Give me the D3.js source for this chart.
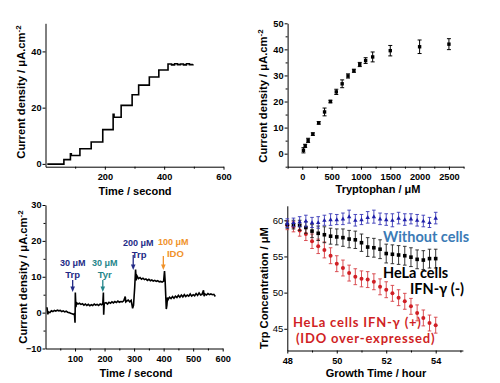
<!DOCTYPE html>
<html><head><meta charset="utf-8">
<script src="https://cdn.jsdelivr.net/npm/d3@7"></script>
<style>body{margin:0;background:#fff}svg{display:block}</style>
</head><body><script>
// ---------- Panel 1 (top-left): step calibration trace ----------
const p1Time = [6, 62, 84, 87, 116, 154, 193, 228, 231, 255, 292, 314, 350, 382, 413, 425, 435, 445, 455, 465, 475, 485, 497];
const p1Value = [-0.1, 1.5, 3.6, 3.0, 5.4, 7.8, 12.2, 17.6, 16.6, 20.8, 24.6, 28.0, 30.9, 33.4, 35.5, 35.2, 35.6, 35.3, 35.5, 35.2, 35.6, 35.3, 35.4];
const p1XTicks = [200, 400, 600], p1XMinor = [100, 300, 500];
const p1YTicks = [0, 20, 40];

// ---------- Panel 2 (top-right): calibration curve ----------
const p2Trp = [20, 50, 100, 180, 280, 380, 480, 580, 680, 780, 880, 980, 1080, 1200, 1500, 2000, 2500];
const p2Current = [1.3, 3.0, 5.1, 7.5, 11.8, 16.0, 20.0, 23.7, 26.8, 29.8, 31.8, 34.2, 35.7, 37.1, 39.5, 41.0, 42.0];
const p2Err = [1.0, 0.6, 0.8, 0.5, 0.5, 1.5, 0.5, 1.0, 1.5, 0.8, 0.6, 0.8, 1.1, 1.9, 2.0, 2.6, 2.1];
const p2XTicks = [0, 500, 1000, 1500, 2000, 2500], p2XMinor = [-250, 250, 750, 1250, 1750, 2250, 2750];
const p2YTicks = [0, 10, 20, 30, 40, 50], p2YMinor = [-5, 5, 15, 25, 35, 45];

// ---------- Panel 3 (bottom-left): selectivity trace ----------
const p3Time = [5, 8, 10, 15, 20, 25, 30, 35, 40, 45, 50, 55, 60, 65, 70, 75, 80, 85, 90, 95, 98, 100, 101, 103, 105, 110, 115, 120, 125, 130, 135, 140, 145, 150, 155, 160, 165, 170, 175, 180, 185, 190, 194, 196, 197, 199, 205, 210, 215, 220, 225, 230, 235, 240, 245, 250, 255, 260, 265, 270, 272, 275, 280, 285, 290, 295, 298, 302, 305, 307, 310, 315, 320, 325, 330, 335, 340, 345, 350, 355, 360, 365, 370, 375, 380, 385, 390, 395, 400, 403, 405, 407, 409, 411, 413, 415, 420, 425, 430, 435, 440, 445, 450, 455, 460, 465, 470, 475, 480, 485, 490, 495, 500, 505, 510, 515, 520, 525, 530, 535, 537, 540, 545, 550, 555, 560, 565, 570, 575];
const p3Value = [1.5, -0.5, 0.2, 0.0, 0.5, 0.3, 0.6, 0.4, 0.7, 0.5, 0.6, 0.3, 0.5, 0.2, 0.4, 0.1, 0.0, -0.2, -0.3, -0.5, -0.3, -2.8, 5.6, 1.5, 2.8, 2.4, 2.6, 2.3, 2.5, 2.1, 2.4, 2.0, 2.3, 1.9, 2.2, 2.0, 2.4, 2.1, 2.3, 2.0, 2.4, 2.2, 2.5, 5.6, -0.6, 2.6, 2.8, 2.4, 2.9, 2.6, 3.0, 2.7, 3.1, 2.8, 3.2, 2.9, 3.1, 3.0, 3.3, 4.5, 3.0, 3.2, 3.5, 3.0, 3.4, 1.2, 2.0, 7.0, 12.0, 9.0, 10.2, 9.5, 9.8, 9.3, 9.6, 9.2, 9.4, 9.0, 9.3, 8.9, 9.1, 8.8, 9.0, 8.7, 8.9, 8.6, 8.7, 8.5, 8.8, 11.6, 9.0, 5.0, 1.0, 2.0, 4.2, 3.6, 4.3, 3.9, 4.5, 4.0, 4.6, 4.2, 4.8, 4.3, 4.9, 4.4, 5.0, 4.5, 4.9, 4.6, 5.2, 4.6, 5.0, 4.7, 5.3, 4.8, 5.5, 4.9, 5.1, 6.2, 4.6, 5.2, 4.9, 5.3, 5.0, 5.2, 5.0, 5.1, 4.5];
const p3XTicks = [100, 200, 300, 400, 500, 600], p3XMinor = [50, 150, 250, 350, 450, 550];
const p3YTicks = [-10, 0, 10, 20, 30], p3YMinor = [-5, 5, 15, 25];
const p3AddTime = [92, 194, 297, 399];
const p3AddConc = ["30 μM", "30 μM", "200 μM", "100 μM"];
const p3AddName = ["Trp", "Tyr", "Trp", "IDO"];
const p3AddColor = ["#232a86", "#24858a", "#232a86", "#f0922a"];

// ---------- Panel 4 (bottom-right): cell culture ----------
const p4Hours = [48, 48.25, 48.5, 48.75, 49, 49.25, 49.5, 49.75, 50, 50.25, 50.5, 50.75, 51, 51.25, 51.5, 51.75, 52, 52.25, 52.5, 52.75, 53, 53.25, 53.5, 53.75, 54];
const p4NoCells = [59.6, 59.7, 59.8, 59.9, 59.7, 59.7, 60.0, 60.1, 60.1, 60.2, 60.5, 60.0, 60.1, 60.4, 60.5, 60.2, 60.1, 60.0, 60.3, 60.1, 60.2, 60.0, 59.9, 59.7, 60.3];
const p4NoCellsErr = [0.6, 0.6, 0.7, 0.8, 0.7, 0.8, 0.7, 0.8, 0.7, 0.8, 0.9, 0.8, 0.7, 0.8, 0.9, 0.8, 0.8, 0.9, 0.8, 0.8, 0.7, 0.8, 0.8, 0.7, 0.8];
const p4HeLa = [59.4, 59.4, 59.3, 59.0, 58.5, 58.2, 58.0, 57.8, 57.7, 57.6, 57.4, 57.3, 56.9, 56.3, 56.2, 56.0, 55.4, 55.3, 55.2, 55.1, 54.9, 54.6, 54.5, 54.7, 54.7];
const p4HeLaErr = [0.5, 0.6, 0.7, 0.8, 0.9, 1.0, 1.1, 1.1, 1.1, 1.2, 1.2, 1.2, 1.2, 1.3, 1.3, 1.3, 1.3, 1.3, 1.3, 1.3, 1.3, 1.3, 1.3, 1.3, 1.3];
const p4IFN = [59.3, 59.1, 58.6, 58.1, 57.1, 56.4, 55.9, 55.1, 54.0, 53.4, 52.7, 52.2, 51.9, 51.8, 51.5, 50.8, 50.4, 49.9, 49.3, 48.8, 48.1, 47.2, 46.5, 45.8, 45.5];
const p4IFNErr = [0.6, 0.7, 0.8, 0.9, 1.0, 1.0, 1.1, 1.1, 1.1, 1.1, 1.1, 1.1, 1.1, 1.1, 1.1, 1.1, 1.1, 1.1, 1.1, 1.1, 1.1, 1.1, 1.1, 1.1, 1.1];
const p4XTicks = [48, 50, 52, 54], p4XMinor = [49, 51, 53, 55];
const p4YTicks = [45, 50, 55, 60];

const FONT = '"Liberation Sans", Arial, sans-serif';
const svg = d3.select("body").append("svg").attr("width", 500).attr("height", 383);

function axes(x, y, xMaj, xMin, yMaj, yMin, yWeight) {
  const bottom = y.range()[0], left = x.range()[0];
  const gx = svg.append("g").attr("transform", `translate(0,${bottom})`)
    .call(d3.axisBottom(x).tickValues(xMaj).tickSize(3).tickSizeOuter(0).tickPadding(4).tickFormat(d3.format("d")));
  if (xMin) gx.append("g").call(d3.axisBottom(x).tickValues(xMin).tickSize(2).tickSizeOuter(0).tickFormat(""))
    .call(g => g.select(".domain").remove());
  const gy = svg.append("g").attr("transform", `translate(${left},0)`)
    .call(d3.axisLeft(y).tickValues(yMaj).tickSize(3).tickSizeOuter(0).tickPadding(1).tickFormat(d3.format("d")));
  if (yMin) gy.append("g").call(d3.axisLeft(y).tickValues(yMin).tickSize(2).tickSizeOuter(0).tickFormat(""))
    .call(g => g.select(".domain").remove());
  [gx, gy].forEach(g => {
    g.selectAll("path,line").attr("stroke", "#000").attr("stroke-width", 1);
    g.selectAll("text").attr("font-family", FONT).attr("font-size", 9.2).attr("font-weight", "bold").attr("fill", "#000");
  });
  if (yWeight) gy.selectAll("text").attr("font-weight", yWeight).attr("font-size", 9.5);
}
function xLabel(txt, cx, by) {
  svg.append("text").attr("x", cx).attr("y", by).attr("text-anchor", "middle")
    .attr("font-family", FONT).attr("font-size", 11).attr("font-weight", "bold").text(txt);
}
function yLabel(parts, bx, cy) {
  const t = svg.append("text").attr("transform", `translate(${bx},${cy}) rotate(-90)`).attr("text-anchor", "middle")
    .attr("font-family", FONT).attr("font-size", 11.2).attr("font-weight", "bold");
  parts.forEach(p => {
    const s = t.append("tspan").text(p.t);
    if (p.sup) s.attr("font-size", 8).attr("baseline-shift", "super");
  });
}

// ===== Panel 1 =====
{
  const x = d3.scaleLinear().domain([0, 600]).range([45.5, 223.5]);
  const y = d3.scaleLinear().domain([-1, 50]).range([166.7, 23.3]);
  axes(x, y, p1XTicks, p1XMinor, p1YTicks, null);
  const line = d3.line().x((d, i) => x(p1Time[i])).y(d => y(d)).curve(d3.curveStepAfter);
  svg.append("path").attr("d", line(p1Value)).attr("fill", "none").attr("stroke", "#000").attr("stroke-width", 1.6);
  xLabel("Time / second", 135, 195);
  yLabel([{t: "Current density / μA.cm"}, {t: "-2", sup: true}], 25, 92);
}

// ===== Panel 2 =====
{
  const x = d3.scaleLinear().domain([-250, 2750]).range([287.6, 463.6]);
  const y = d3.scaleLinear().domain([-5, 50]).range([166.7, 23.3]);
  axes(x, y, p2XTicks, p2XMinor, p2YTicks, p2YMinor);
  const g = svg.append("g");
  p2Trp.forEach((v, i) => {
    const cx = x(v), y0 = y(p2Current[i] - p2Err[i]), y1 = y(p2Current[i] + p2Err[i]);
    g.append("line").attr("x1", cx).attr("x2", cx).attr("y1", y0).attr("y2", y1).attr("stroke", "#000").attr("stroke-width", 1);
    g.append("line").attr("x1", cx - 2).attr("x2", cx + 2).attr("y1", y0).attr("y2", y0).attr("stroke", "#000");
    g.append("line").attr("x1", cx - 2).attr("x2", cx + 2).attr("y1", y1).attr("y2", y1).attr("stroke", "#000");
    g.append("rect").attr("x", cx - 1.7).attr("y", y(p2Current[i]) - 1.7).attr("width", 3.4).attr("height", 3.4).attr("fill", "#000");
  });
  xLabel("Tryptophan / μM", 378, 193);
  yLabel([{t: "Current density / μA.cm"}, {t: "-2", sup: true}], 266.5, 96);
}

// ===== Panel 3 =====
{
  const x = d3.scaleLinear().domain([0, 600]).range([45.5, 222.7]);
  const y = d3.scaleLinear().domain([-10, 30]).range([348.5, 205]);
  axes(x, y, p3XTicks, p3XMinor, p3YTicks, p3YMinor);
  const line = d3.line().x((d, i) => x(p3Time[i])).y(d => y(d));
  svg.append("path").attr("d", line(p3Value)).attr("fill", "none").attr("stroke", "#000").attr("stroke-width", 1.6);
  // annotation layout (pixels): arrow tail/tip y, text offsets
  const lay = [
    {tail: 280, tip: 292, dx1: 0, dx2: 0, b1: 265.5, b2: 278},
    {tail: 280, tip: 292, dx1: 2, dx2: 2, b1: 265.5, b2: 278},
    {tail: 255, tip: 270, dx1: 5, dx2: 6, b1: 245.5, b2: 257.5},
    {tail: 256, tip: 270, dx1: 10, dx2: 12, b1: 244.5, b2: 256.5}
  ];
  p3AddTime.forEach((t, i) => {
    const ax = x(t), L = lay[i], col = p3AddColor[i];
    svg.append("line").attr("x1", ax).attr("x2", ax).attr("y1", L.tail).attr("y2", L.tip - 3).attr("stroke", col).attr("stroke-width", 1.3);
    svg.append("path").attr("d", `M${ax - 2.3},${L.tip - 5.5}L${ax + 2.3},${L.tip - 5.5}L${ax},${L.tip}Z`).attr("fill", col);
    svg.append("text").attr("x", ax + L.dx1).attr("y", L.b1).attr("text-anchor", "middle")
      .attr("font-family", FONT).attr("font-size", 9).attr("font-weight", "bold").attr("fill", col).text(p3AddConc[i]);
    svg.append("text").attr("x", ax + L.dx2).attr("y", L.b2).attr("text-anchor", "middle")
      .attr("font-family", FONT).attr("font-size", 9.5).attr("font-weight", "bold").attr("fill", col).text(p3AddName[i]);
  });
  xLabel("Time / second", 136, 377);
  yLabel([{t: "Current density / μA.cm"}, {t: "-2", sup: true}], 26.5, 277);
}

// ===== Panel 4 =====
{
  const x = d3.scaleLinear().domain([48, 55.1]).range([287.3, 462.9]);
  const y = d3.scaleLinear().domain([42, 62]).range([350.5, 205.8]);
  axes(x, y, p4XTicks, p4XMinor, p4YTicks, null, "normal");
  const series = [
    {v: p4IFN, e: p4IFNErr, color: "#d01f25", bar: "#d64045", shape: "circle"},
    {v: p4HeLa, e: p4HeLaErr, color: "#000", bar: "#222", shape: "square"},
    {v: p4NoCells, e: p4NoCellsErr, color: "#1f1fa8", bar: "#3a3ab8", shape: "triangle"}
  ];
  series.forEach(s => {
    const g = svg.append("g");
    p4Hours.forEach((h, i) => {
      const cx = x(h), cy = y(s.v[i]), y0 = y(s.v[i] - s.e[i]), y1 = y(s.v[i] + s.e[i]);
      g.append("line").attr("x1", cx).attr("x2", cx).attr("y1", y0).attr("y2", y1).attr("stroke", s.bar).attr("stroke-width", 0.9);
      g.append("line").attr("x1", cx - 1.8).attr("x2", cx + 1.8).attr("y1", y0).attr("y2", y0).attr("stroke", s.bar).attr("stroke-width", 0.9);
      g.append("line").attr("x1", cx - 1.8).attr("x2", cx + 1.8).attr("y1", y1).attr("y2", y1).attr("stroke", s.bar).attr("stroke-width", 0.9);
      if (s.shape === "circle") g.append("circle").attr("cx", cx).attr("cy", cy).attr("r", 2).attr("fill", s.color);
      else if (s.shape === "square") g.append("rect").attr("x", cx - 1.8).attr("y", cy - 1.8).attr("width", 3.6).attr("height", 3.6).attr("fill", s.color);
      else g.append("path").attr("d", `M${cx},${cy - 2.3}L${cx + 2.2},${cy + 1.6}L${cx - 2.2},${cy + 1.6}Z`).attr("fill", s.color);
    });
  });
  const lab = (txt, xx, yy, col, fs, ls) => svg.append("text").attr("x", xx).attr("y", yy)
    .attr("font-family", "Lato, sans-serif").attr("font-size", fs).attr("font-weight", "bold")
    .attr("letter-spacing", ls).attr("fill", col).text(txt);
  lab("Without cells", 383, 242, "#3b7bb6", 14.5, 0);
  lab("HeLa cells", 383, 278, "#000", 14.5, 0);
  lab("IFN-γ (-)", 410, 294, "#000", 14.5, 0);
  lab("HeLa cells IFN-γ (+)", 293, 327, "#d01f25", 13, 0.8);
  lab("(IDO over-expressed)", 296, 343, "#d01f25", 13, 0.8);
  xLabel("Growth Time / hour", 376, 377);
  yLabel([{t: "Trp Concentration / μM"}], 268, 288);
}
</script></body></html>
